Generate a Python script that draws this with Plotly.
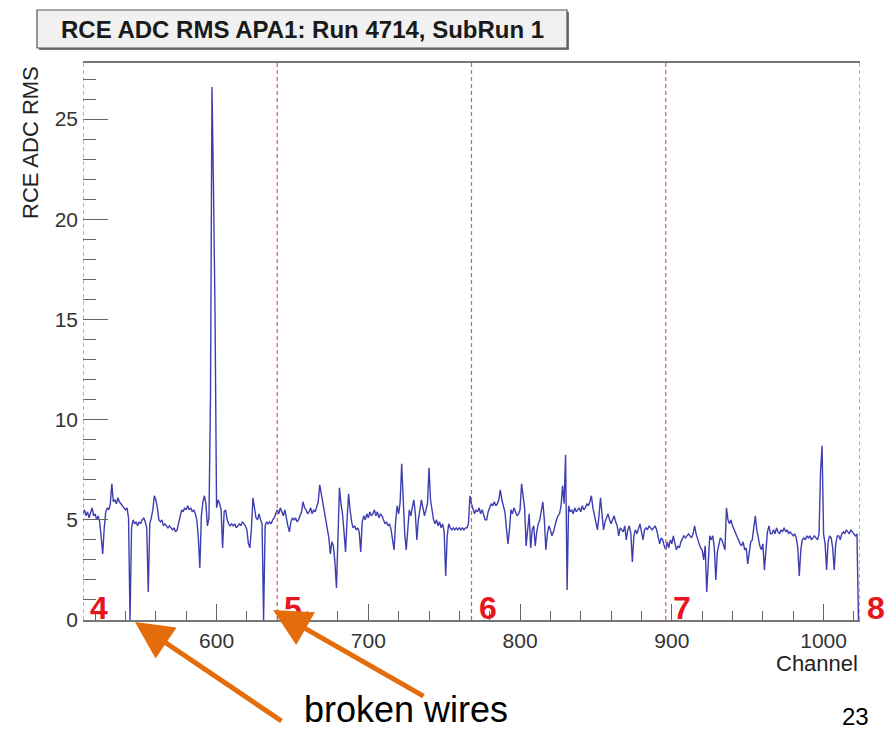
import plotly.graph_objects as go

# ---------------- data ----------------
first_channel = 512
rms = [
    # 512-527
    5.3, 5.5, 5.2, 5.4, 5.1, 5.3, 5.6, 5.2, 5.3, 5.0, 5.2, 4.9, 4.2, 3.3, 4.6, 5.4,
    # 528-543
    5.6, 5.5, 5.8, 6.8, 5.9, 6.0, 5.8, 6.1, 5.9, 5.8, 5.7, 5.6, 5.5, 5.6, 5.1, 0.0,
    # 544-559
    4.6, 5.0, 4.8, 4.9, 4.7, 4.9, 4.8, 5.0, 5.1, 4.9, 4.6, 1.4, 4.8, 5.1, 5.5, 6.2,
    # 560-575
    6.0, 5.6, 5.0, 4.9, 5.0, 4.7, 4.8, 4.7, 4.6, 4.7, 4.6, 4.5, 4.6, 4.4, 4.5, 4.9,
    # 576-591
    5.3, 5.5, 5.4, 5.6, 5.5, 5.7, 5.5, 5.6, 5.4, 5.5, 5.3, 5.0, 4.1, 2.6, 5.2, 5.9,
    # 592-607
    6.2, 5.8, 4.7, 5.1, 11.1, 26.6, 21.5, 15.3, 5.6, 6.0, 5.8, 5.5, 3.6, 5.4, 5.5, 5.0,
    # 608-623
    4.8, 4.7, 4.8, 4.7, 4.8, 4.6, 4.7, 4.8, 4.7, 4.9, 4.8, 4.7, 4.5, 3.8, 3.6, 4.6,
    # 624-639
    6.1, 5.6, 5.1, 5.0, 5.3, 5.0, 4.8, 0.0, 4.7, 4.9, 4.8, 4.9, 4.8, 5.0, 5.1, 5.3,
    # 640-655
    5.5, 5.3, 5.6, 5.4, 5.2, 5.5, 5.0, 4.7, 4.4, 4.9, 5.1, 5.0, 5.1, 4.9, 5.0, 5.2,
    # 656-671
    5.4, 5.9, 5.6, 5.5, 5.3, 5.4, 5.6, 5.3, 5.5, 5.4, 5.6, 5.9, 6.75, 6.3, 5.9, 5.6,
    # 672-687
    5.0, 4.7, 4.1, 3.3, 3.9, 3.7, 2.9, 1.6, 4.9, 6.6, 5.8, 5.3, 4.4, 3.4, 5.0, 6.3,
    # 688-703
    5.5, 4.9, 4.6, 4.7, 4.5, 4.6, 4.4, 3.4, 4.9, 5.2, 5.0, 5.3, 5.1, 5.4, 5.2, 5.3,
    # 704-719
    5.5, 5.2, 5.4, 5.1, 5.3, 5.2, 5.0, 4.8, 4.9, 4.7, 4.8, 4.5, 4.0, 3.5, 4.9, 5.7,
    # 720-735
    5.3, 5.9, 7.8, 5.6, 4.3, 3.5, 4.8, 5.5, 5.2, 5.6, 6.0, 5.3, 4.0, 5.0, 5.4, 6.0,
    # 736-751
    5.6, 5.2, 5.5, 5.8, 7.6, 6.0, 5.5, 5.0, 4.8, 5.0, 4.7, 4.9, 4.6, 4.8, 4.4, 2.2,
    # 752-767
    4.2, 4.8, 4.6, 4.5, 4.6, 4.5, 4.6, 4.5, 4.6, 4.5, 4.6, 4.5, 4.6, 4.6, 4.8, 6.2,
    # 768-783
    5.8, 5.6, 5.3, 5.5, 5.4, 5.6, 5.3, 5.5, 5.2, 5.0, 5.0, 5.4, 5.6, 5.8, 5.7, 5.9,
    # 784-799
    5.7, 5.8, 6.0, 6.5, 6.0, 5.6, 5.4, 4.6, 3.8, 4.5, 5.5, 5.3, 5.6, 5.4, 5.2, 5.3,
    # 800-815
    5.5, 6.8, 6.2, 5.6, 3.7, 4.6, 5.3, 3.6, 4.5, 4.7, 3.7, 4.4, 4.8, 5.0, 5.4, 5.9,
    # 816-831
    5.0, 3.5, 4.3, 4.7, 4.5, 4.2, 4.4, 4.8, 5.0, 5.2, 5.3, 5.7, 6.7, 5.8, 8.25, 1.5,
    # 832-847
    5.7, 5.4, 5.5, 5.3, 5.6, 5.4, 5.5, 5.6, 5.4, 5.7, 5.5, 5.6, 5.8, 5.7, 5.9, 6.2,
    # 848-863
    5.6, 5.2, 4.8, 4.5, 5.2, 6.1, 5.3, 4.5, 4.9, 5.1, 5.3, 5.0, 4.8, 5.0, 5.2, 4.9,
    # 864-879
    4.7, 4.2, 4.6, 4.5, 4.4, 4.7, 4.0, 4.5, 4.7, 4.3, 2.9, 4.2, 4.5, 4.3, 4.6, 4.8,
    # 880-895
    4.4, 4.0, 4.5, 4.6, 4.5, 4.7, 4.6, 4.5, 4.6, 4.7, 4.5, 4.2, 3.8, 4.1, 4.0, 3.7,
    # 896-911
    3.5, 3.9, 3.6, 4.0, 3.8, 4.2, 3.8, 3.5, 3.7, 3.6, 3.9, 4.1, 4.2, 4.1, 4.2, 4.3,
    # 912-927
    4.2, 4.1, 4.3, 4.7, 4.3, 4.0, 3.8, 3.6, 3.5, 3.0, 3.7, 1.4, 3.2, 4.2, 4.0, 4.2,
    # 928-943
    3.6, 2.0, 3.4, 3.8, 4.1, 4.0, 3.7, 3.5, 5.6, 5.0, 4.8, 5.0, 4.7, 4.5, 4.4, 4.2,
    # 944-959
    4.0, 3.8, 3.7, 3.9, 3.5, 3.6, 2.8, 3.5, 3.9, 4.0, 4.6, 5.2, 4.5, 4.0, 3.7, 3.5,
    # 960-975
    3.8, 2.5, 3.6, 4.4, 4.7, 4.3, 4.3, 4.5, 4.3, 4.6, 4.4, 4.3, 4.5, 4.4, 4.6, 4.4,
    # 976-991
    4.5, 4.3, 4.4, 4.3, 4.2, 4.3, 4.1, 3.6, 2.2, 3.5, 4.0, 4.1, 4.0, 4.2, 4.1, 4.2,
    # 992-1007
    4.0, 4.1, 4.2, 4.1, 4.0, 4.3, 7.4, 8.7, 4.3, 3.8, 2.5, 3.9, 4.2, 4.1, 3.6, 2.5,
    # 1008-1023
    3.8, 4.2, 4.2, 4.0, 4.3, 4.4, 4.3, 4.5, 4.4, 4.3, 4.5, 4.4, 4.3, 4.2, 4.3, 0.0,
]
channels = list(range(first_channel, first_channel + len(rms)))

asic_bounds = [512, 640, 768, 896, 1024]
asic_labels = ["4", "5", "6", "7", "8"]
x_ticks = [600, 700, 800, 900, 1000]
y_ticks = [0, 5, 10, 15, 20, 25]

title_text = "RCE ADC RMS APA1: Run 4714, SubRun 1"
y_title = "RCE ADC RMS"
x_title = "Channel"
note_text = "broken wires"
page_number = "23"

# ---------------- figure ----------------
W, H = 892, 729
L, R, T, B = 83, 32, 63, 109
pw, ph = W - L - R, H - T - B


def px(xp):
    return (xp - L) / pw


def py(yp):
    return (H - B - yp) / ph


FONT = "Liberation Sans, Arial, Helvetica, sans-serif"

fig = go.Figure()
fig.add_trace(go.Scatter(
    x=channels, y=rms, mode="lines",
    line=dict(color="#3e3eb2", width=1.4),
    hoverinfo="skip",
))

shapes = []
# title box shadow + box
shapes.append(dict(type="rect", xref="paper", yref="paper",
                   x0=px(39), x1=px(569), y0=py(50), y1=py(12),
                   fillcolor="#777777", line=dict(width=0), layer="above"))
shapes.append(dict(type="rect", xref="paper", yref="paper",
                   x0=px(37), x1=px(567), y0=py(48), y1=py(10),
                   fillcolor="#f1f1f1", line=dict(color="#555555", width=1.2),
                   layer="above"))
for b in asic_bounds:
    shapes.append(dict(type="line", xref="x", yref="paper",
                       x0=b, x1=b, y0=0, y1=1,
                       line=dict(color="#e05a5a", width=1.2, dash="4px,3px"),
                       layer="above"))

annotations = []
annotations.append(dict(text=title_text, xref="paper", yref="paper",
                        x=px(302), y=py(29), xanchor="center", yanchor="middle",
                        showarrow=False,
                        font=dict(family=FONT, size=24, color="#1a1a1a", weight="bold")))
annotations.append(dict(text=y_title, xref="paper", yref="paper",
                        x=px(30), y=py(143), xanchor="center", yanchor="middle",
                        textangle=-90, showarrow=False,
                        font=dict(family=FONT, size=22, color="#222222")))
annotations.append(dict(text=x_title, xref="paper", yref="paper",
                        x=1.0, y=py(663), xanchor="right", yanchor="middle",
                        showarrow=False,
                        font=dict(family=FONT, size=22, color="#222222")))
for b, lab in zip(asic_bounds, asic_labels):
    annotations.append(dict(text=lab, xref="x", yref="paper",
                            x=b, y=py(608), xanchor="left", yanchor="middle",
                            xshift=5, showarrow=False,
                            font=dict(family=FONT, size=32, color="#e8141e", weight="bold")))
# arrows pointing at broken wires
ORANGE = "#e46c0a"
for tip, tail in [((135, 622), (283, 722)), ((273, 610), (425, 697))]:
    annotations.append(dict(text="", xref="paper", yref="paper",
                            x=px(tip[0]), y=py(tip[1]),
                            ax=tail[0] - tip[0], ay=tail[1] - tip[1],
                            showarrow=True, arrowhead=2, arrowsize=1.5,
                            arrowwidth=5, arrowcolor=ORANGE, standoff=0))
annotations.append(dict(text=note_text, xref="paper", yref="paper",
                        x=px(406), y=py(709), xanchor="center", yanchor="middle",
                        showarrow=False,
                        font=dict(family=FONT, size=36, color="#000000")))
annotations.append(dict(text=page_number, xref="paper", yref="paper",
                        x=px(855), y=py(716), xanchor="center", yanchor="middle",
                        showarrow=False,
                        font=dict(family=FONT, size=24, color="#000000")))

fig.update_layout(
    width=W, height=H,
    margin=dict(l=L, r=R, t=T, b=B, pad=0),
    paper_bgcolor="white", plot_bgcolor="white",
    showlegend=False,
    shapes=shapes, annotations=annotations,
    xaxis=dict(
        range=[asic_bounds[0], asic_bounds[-1]],
        tickvals=x_ticks, ticktext=[str(v) for v in x_ticks],
        ticks="inside", ticklen=16, tickwidth=1, tickcolor="#666666",
        minor=dict(dtick=20, tick0=0, ticks="inside", ticklen=9,
                   tickwidth=1, tickcolor="#666666", showgrid=False),
        showline=True, linecolor="#777777", linewidth=2, mirror=True,
        showgrid=False, zeroline=False,
        tickfont=dict(family=FONT, size=21, color="#333333"),
        ticklabelstandoff=1,
    ),
    yaxis=dict(
        range=[0, 27.8],
        tickvals=y_ticks, ticktext=[str(v) for v in y_ticks],
        ticks="inside", ticklen=25, tickwidth=1, tickcolor="#666666",
        minor=dict(dtick=1, tick0=0, ticks="inside", ticklen=13,
                   tickwidth=1, tickcolor="#666666", showgrid=False),
        showline=False,
        showgrid=False, zeroline=False,
        tickfont=dict(family=FONT, size=21, color="#333333"),
        ticklabelstandoff=4,
    ),
)

fig.write_html("out.html")
